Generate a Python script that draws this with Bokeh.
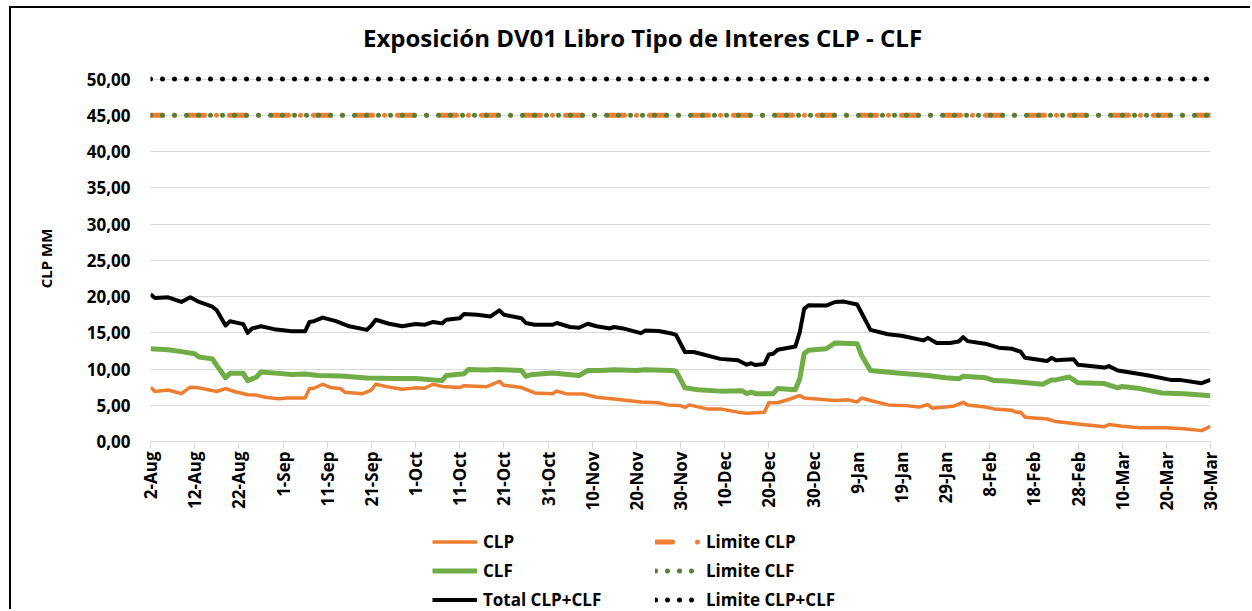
import math
import pandas as pd
from bokeh.plotting import figure
from bokeh.layouts import column
from bokeh.models import Range1d, FixedTicker, Legend, LegendItem, Div
from bokeh.embed import file_html
from bokeh.resources import INLINE

# ---------------- data ----------------
clp_dates = ["2021-08-02", "2021-08-03", "2021-08-06", "2021-08-09", "2021-08-11", "2021-08-13",
             "2021-08-17", "2021-08-19", "2021-08-21", "2021-08-24", "2021-08-26", "2021-08-28",
             "2021-08-31", "2021-09-02", "2021-09-06", "2021-09-07", "2021-09-08", "2021-09-10",
             "2021-09-12", "2021-09-14", "2021-09-15", "2021-09-19", "2021-09-21", "2021-09-22",
             "2021-09-25", "2021-09-28", "2021-10-01", "2021-10-03", "2021-10-05", "2021-10-07",
             "2021-10-11", "2021-10-12", "2021-10-17", "2021-10-20", "2021-10-21", "2021-10-25",
             "2021-10-28", "2021-11-01", "2021-11-02", "2021-11-04", "2021-11-08", "2021-11-11",
             "2021-11-16", "2021-11-21", "2021-11-25", "2021-11-27", "2021-11-30", "2021-12-01",
             "2021-12-02", "2021-12-06", "2021-12-09", "2021-12-13", "2021-12-15", "2021-12-19",
             "2021-12-20", "2021-12-22", "2021-12-25", "2021-12-27", "2021-12-28", "2022-01-04",
             "2022-01-07", "2022-01-09", "2022-01-10", "2022-01-12", "2022-01-16", "2022-01-20",
             "2022-01-23", "2022-01-25", "2022-01-26", "2022-01-29", "2022-01-31", "2022-02-02",
             "2022-02-03", "2022-02-07", "2022-02-09", "2022-02-13", "2022-02-14", "2022-02-15",
             "2022-02-16", "2022-02-21", "2022-02-23", "2022-03-01", "2022-03-06", "2022-03-07",
             "2022-03-10", "2022-03-14", "2022-03-20", "2022-03-24", "2022-03-28", "2022-03-30"]
clp_values = [7.5, 6.9, 7.1, 6.6, 7.5, 7.4,
              6.9, 7.3, 6.9, 6.45, 6.4, 6.1,
              5.9, 6.0, 6.0, 7.3, 7.35, 7.9,
              7.4, 7.3, 6.8, 6.6, 7.1, 7.9,
              7.5, 7.2, 7.4, 7.35, 7.9, 7.6,
              7.45, 7.7, 7.55, 8.3, 7.75, 7.45,
              6.7, 6.6, 6.95, 6.6, 6.55, 6.1,
              5.8, 5.45, 5.35, 5.05, 4.95, 4.7,
              5.05, 4.5, 4.5, 4.05, 3.9, 4.05,
              5.35, 5.35, 5.9, 6.35, 6.0, 5.65,
              5.75, 5.45, 6.0, 5.65, 5.05, 4.95,
              4.75, 5.1, 4.6, 4.75, 4.9, 5.4,
              5.05, 4.75, 4.5, 4.3, 4.05, 4.05,
              3.35, 3.1, 2.75, 2.35, 2.05, 2.35,
              2.1, 1.9, 1.9, 1.75, 1.5, 2.1]

clf_dates = ["2021-08-02", "2021-08-06", "2021-08-09", "2021-08-12", "2021-08-13", "2021-08-16",
             "2021-08-17", "2021-08-19", "2021-08-20", "2021-08-23", "2021-08-24", "2021-08-26",
             "2021-08-27", "2021-08-31", "2021-09-03", "2021-09-06", "2021-09-09", "2021-09-14",
             "2021-09-20", "2021-09-26", "2021-10-01", "2021-10-07", "2021-10-08", "2021-10-12",
             "2021-10-13", "2021-10-17", "2021-10-19", "2021-10-25", "2021-10-26", "2021-10-27",
             "2021-11-01", "2021-11-07", "2021-11-09", "2021-11-12", "2021-11-15", "2021-11-20",
             "2021-11-22", "2021-11-28", "2021-11-29", "2021-12-01", "2021-12-04", "2021-12-09",
             "2021-12-14", "2021-12-15", "2021-12-16", "2021-12-17", "2021-12-21", "2021-12-22",
             "2021-12-26", "2021-12-27", "2021-12-28", "2021-12-29", "2022-01-02", "2022-01-04",
             "2022-01-09", "2022-01-10", "2022-01-12", "2022-01-18", "2022-01-25", "2022-01-29",
             "2022-02-01", "2022-02-02", "2022-02-07", "2022-02-09", "2022-02-12", "2022-02-20",
             "2022-02-22", "2022-02-23", "2022-02-26", "2022-02-28", "2022-03-06", "2022-03-09",
             "2022-03-10", "2022-03-14", "2022-03-19", "2022-03-24", "2022-03-30"]
clf_values = [12.8, 12.67, 12.4, 12.1, 11.65, 11.4,
              10.5, 8.8, 9.4, 9.4, 8.4, 8.9,
              9.6, 9.4, 9.25, 9.3, 9.1, 9.05,
              8.75, 8.7, 8.7, 8.4, 9.1, 9.35,
              9.95, 9.85, 9.95, 9.8, 9.0, 9.2,
              9.45, 9.1, 9.8, 9.8, 9.9, 9.8,
              9.9, 9.8, 9.7, 7.4, 7.15, 6.95,
              7.0, 6.6, 6.8, 6.6, 6.6, 7.3,
              7.15, 8.65, 12.1, 12.6, 12.8, 13.6,
              13.5, 11.9, 9.8, 9.45, 9.1, 8.8,
              8.65, 9.0, 8.8, 8.4, 8.35, 7.9,
              8.5, 8.5, 8.9, 8.1, 8.0, 7.4,
              7.6, 7.3, 6.7, 6.6, 6.3]

total_dates = ["2021-08-02", "2021-08-03", "2021-08-06", "2021-08-09", "2021-08-11", "2021-08-13",
               "2021-08-16", "2021-08-17", "2021-08-19", "2021-08-20", "2021-08-23", "2021-08-24",
               "2021-08-25", "2021-08-27", "2021-08-30", "2021-09-03", "2021-09-06", "2021-09-07",
               "2021-09-08", "2021-09-10", "2021-09-13", "2021-09-16", "2021-09-20", "2021-09-21",
               "2021-09-22", "2021-09-25", "2021-09-28", "2021-10-01", "2021-10-03", "2021-10-05",
               "2021-10-07", "2021-10-08", "2021-10-11", "2021-10-12", "2021-10-15", "2021-10-18",
               "2021-10-20", "2021-10-21", "2021-10-25", "2021-10-26", "2021-10-28", "2021-11-01",
               "2021-11-02", "2021-11-05", "2021-11-07", "2021-11-09", "2021-11-11", "2021-11-14",
               "2021-11-15", "2021-11-17", "2021-11-21", "2021-11-22", "2021-11-25", "2021-11-28",
               "2021-11-29", "2021-12-01", "2021-12-03", "2021-12-09", "2021-12-13", "2021-12-15",
               "2021-12-16", "2021-12-17", "2021-12-19", "2021-12-20", "2021-12-21", "2021-12-22",
               "2021-12-26", "2021-12-27", "2021-12-28", "2021-12-29", "2022-01-02", "2022-01-04",
               "2022-01-06", "2022-01-09", "2022-01-12", "2022-01-16", "2022-01-19", "2022-01-24",
               "2022-01-25", "2022-01-27", "2022-01-30", "2022-02-01", "2022-02-02", "2022-02-03",
               "2022-02-07", "2022-02-10", "2022-02-13", "2022-02-15", "2022-02-16", "2022-02-21",
               "2022-02-22", "2022-02-23", "2022-02-27", "2022-02-28", "2022-03-06", "2022-03-07",
               "2022-03-09", "2022-03-15", "2022-03-16", "2022-03-21", "2022-03-23", "2022-03-28",
               "2022-03-30"]
total_values = [20.3, 19.8, 19.9, 19.25, 19.9, 19.25,
                18.6, 18.1, 16.0, 16.6, 16.2, 15.0,
                15.6, 15.9, 15.5, 15.2, 15.2, 16.5,
                16.6, 17.1, 16.6, 15.9, 15.4, 16.0,
                16.8, 16.25, 15.9, 16.2, 16.1, 16.5,
                16.3, 16.8, 17.0, 17.6, 17.5, 17.25,
                18.1, 17.5, 17.0, 16.35, 16.1, 16.1,
                16.35, 15.8, 15.7, 16.25, 15.9, 15.6,
                15.8, 15.6, 14.95, 15.3, 15.25, 14.9,
                14.7, 12.35, 12.35, 11.4, 11.2, 10.6,
                10.8, 10.55, 10.7, 12.0, 12.1, 12.65,
                13.1, 15.1, 18.3, 18.8, 18.75, 19.25,
                19.3, 18.9, 15.4, 14.8, 14.6, 13.95,
                14.3, 13.6, 13.6, 13.8, 14.4, 13.85,
                13.5, 12.95, 12.8, 12.4, 11.55, 11.1,
                11.55, 11.2, 11.35, 10.6, 10.2, 10.4,
                9.8, 9.2, 9.1, 8.5, 8.5, 8.05,
                8.5]

limit_dates = ["2021-08-02", "2022-03-30"]
limite_clp = 45
limite_clf = 45
limite_total = 50

x_tick_dates = ["2021-08-02", "2021-08-12", "2021-08-22", "2021-09-01", "2021-09-11", "2021-09-21",
                "2021-10-01", "2021-10-11", "2021-10-21", "2021-10-31", "2021-11-10", "2021-11-20",
                "2021-11-30", "2021-12-10", "2021-12-20", "2021-12-30", "2022-01-09", "2022-01-19",
                "2022-01-29", "2022-02-08", "2022-02-18", "2022-02-28", "2022-03-10", "2022-03-20",
                "2022-03-30"]
x_tick_labels = ["2-Aug", "12-Aug", "22-Aug", "1-Sep", "11-Sep", "21-Sep", "1-Oct", "11-Oct",
                 "21-Oct", "31-Oct", "10-Nov", "20-Nov", "30-Nov", "10-Dec", "20-Dec", "30-Dec",
                 "9-Jan", "19-Jan", "29-Jan", "8-Feb", "18-Feb", "28-Feb", "10-Mar", "20-Mar",
                 "30-Mar"]
y_ticks = [0, 5, 10, 15, 20, 25, 30, 35, 40, 45, 50]
y_tick_labels = ["0,00", "5,00", "10,00", "15,00", "20,00", "25,00", "30,00", "35,00",
                 "40,00", "45,00", "50,00"]

title_text = "Exposición DV01 Libro Tipo de Interes CLP - CLF"

# ---------------- helpers ----------------
START = pd.Timestamp(limit_dates[0])


def to_days(ds):
    return [(pd.Timestamp(d) - START).days for d in ds]


FONT = "Open Sans"
ORANGE = "#ED7D31"
GREEN = "#70AD47"
DKGREEN = "#548235"
GRID = "#D9D9D9"

STYLE_CLP = dict(line_color=ORANGE, line_width=3.5, line_join="round")
STYLE_LCLP = dict(line_color=ORANGE, line_width=5, line_dash="17 12 0 13", line_dash_offset=5,
                  line_cap="round")
STYLE_LCLP_KEY = dict(line_color=ORANGE, line_width=5, line_dash="17 25 0 40", line_cap="round")
STYLE_CLF = dict(line_color=GREEN, line_width=5, line_join="round")
STYLE_LCLF = dict(line_color=DKGREEN, line_width=5, line_dash="0 12", line_cap="round")
STYLE_TOT = dict(line_color="black", line_width=4, line_join="round")
STYLE_LTOT = dict(line_color="black", line_width=5, line_dash="0 12", line_cap="round")

# ---------------- title ----------------
title_div = Div(
    text=('<div style="margin-left:352px;margin-top:13px;font-family:\'Open Sans\';'
          'font-weight:bold;font-size:24px;color:#000;white-space:nowrap;">'
          + title_text + '</div>'),
    width=1241, height=55, margin=0)

# ---------------- main plot ----------------
p = figure(width=1241, height=453, output_backend="svg", toolbar_location=None,
           x_range=Range1d(to_days(limit_dates)[0], to_days(limit_dates)[1]),
           y_range=Range1d(0, 50.5),
           min_border_left=139, min_border_right=42, min_border_top=12, min_border_bottom=75)
p.outline_line_color = None
p.background_fill_color = "white"
p.border_fill_color = "white"

p.xaxis.ticker = FixedTicker(ticks=to_days(x_tick_dates))
p.xaxis.major_label_overrides = {d: lab for d, lab in zip(to_days(x_tick_dates), x_tick_labels)}
p.xaxis.major_label_orientation = math.pi / 2
p.xaxis.axis_line_color = GRID
p.xaxis.major_tick_line_color = GRID
p.xaxis.major_tick_out = 7
p.xaxis.major_tick_in = 0
p.xaxis.minor_tick_line_color = None
p.xaxis.major_label_standoff = 3
p.xaxis.major_label_text_font = FONT
p.xaxis.major_label_text_font_style = "bold"
p.xaxis.major_label_text_font_size = "17px"
p.xaxis.major_label_text_color = "black"

p.yaxis.ticker = FixedTicker(ticks=y_ticks)
p.yaxis.major_label_overrides = {v: lab for v, lab in zip(y_ticks, y_tick_labels)}
p.yaxis.axis_line_color = None
p.yaxis.major_tick_line_color = None
p.yaxis.minor_tick_line_color = None
p.yaxis.major_tick_out = 0
p.yaxis.major_label_standoff = 20
p.yaxis.major_label_text_font = FONT
p.yaxis.major_label_text_font_style = "bold"
p.yaxis.major_label_text_font_size = "17px"
p.yaxis.major_label_text_color = "black"
p.yaxis.axis_label = "CLP MM"
p.yaxis.axis_label_text_font = FONT
p.yaxis.axis_label_text_font_style = "bold"
p.yaxis.axis_label_text_font_size = "15px"
p.yaxis.axis_label_text_color = "black"
p.yaxis.axis_label_standoff = 28

p.xgrid.visible = False
p.ygrid.ticker = FixedTicker(ticks=y_ticks)
p.ygrid.grid_line_color = GRID
p.ygrid.grid_line_width = 1

lx = to_days(limit_dates)
p.line(to_days(clp_dates), clp_values, **STYLE_CLP)
p.line(lx, [limite_clp] * len(lx), **STYLE_LCLP)
p.line(to_days(clf_dates), clf_values, **STYLE_CLF)
p.line(lx, [limite_clf] * len(lx), **STYLE_LCLF)
p.line(to_days(total_dates), total_values, **STYLE_TOT)
p.line(lx, [limite_total] * len(lx), **STYLE_LTOT)

# ---------------- legend strip (proxy renderers hold no visible points) ----------------
lg = figure(width=1241, height=95, output_backend="svg", toolbar_location=None,
            x_axis_type=None, y_axis_type=None, x_range=Range1d(0, 1), y_range=Range1d(0, 1),
            min_border_left=0, min_border_right=0, min_border_top=0, min_border_bottom=0)
lg.outline_line_color = None
lg.grid.visible = False
lg.background_fill_color = "white"
lg.border_fill_color = "white"

NAN = [math.nan]
k_clp = lg.line(NAN, NAN, **STYLE_CLP)
k_lclp = lg.line(NAN, NAN, **STYLE_LCLP_KEY)
k_clf = lg.line(NAN, NAN, **STYLE_CLF)
k_lclf = lg.line(NAN, NAN, **STYLE_LCLF)
k_tot = lg.line(NAN, NAN, **STYLE_TOT)
k_ltot = lg.line(NAN, NAN, **STYLE_LTOT)

legend = Legend(items=[
    LegendItem(label="CLP", renderers=[k_clp]),
    LegendItem(label="CLF", renderers=[k_clf]),
    LegendItem(label="Total CLP+CLF", renderers=[k_tot]),
    LegendItem(label="Limite CLP", renderers=[k_lclp]),
    LegendItem(label="Limite CLF", renderers=[k_lclf]),
    LegendItem(label="Limite CLP+CLF", renderers=[k_ltot]),
], location=(282, 0), orientation="vertical", ncols=2,
    padding=0, margin=0, spacing=6,
    glyph_width=45, glyph_height=23, label_height=23, label_width=166, label_standoff=6,
    label_text_font=FONT, label_text_font_style="bold", label_text_font_size="17px",
    label_text_color="black", border_line_color=None, background_fill_alpha=0)
lg.add_layout(legend)

page = column(title_div, p, lg, spacing=0, margin=(8, 0, 0, 11),
              styles={"box-shadow": "-2px -2px 0 0 #000000", "background": "white"})

open("out.html", "w").write(file_html(page, INLINE))
